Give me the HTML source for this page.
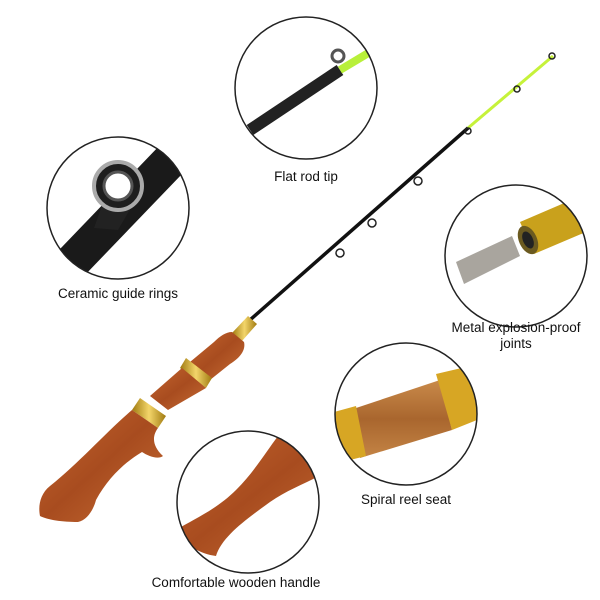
<!DOCTYPE html>
<html><head><style>
html,body{margin:0;padding:0;background:#fff;}
svg{display:block}
text{font-family:"Liberation Sans",sans-serif;font-size:13.5px;fill:#111;text-anchor:middle}
</style></head><body>
<svg width="600" height="600" viewBox="0 0 600 600" xmlns="http://www.w3.org/2000/svg">
<defs>
<linearGradient id="wood" x1="0" y1="0" x2="1" y2="1">
<stop offset="0" stop-color="#c4652f"/><stop offset="0.5" stop-color="#a84c1f"/><stop offset="1" stop-color="#c66c34"/></linearGradient>
<linearGradient id="gold" x1="0" y1="0" x2="1" y2="0">
<stop offset="0" stop-color="#a07a10"/><stop offset="0.5" stop-color="#f3d56a"/><stop offset="1" stop-color="#a07a10"/></linearGradient>
<linearGradient id="wood2" x1="0" y1="0" x2="0" y2="1">
<stop offset="0" stop-color="#c98a4a"/><stop offset="0.5" stop-color="#a9662e"/><stop offset="1" stop-color="#c48445"/></linearGradient>
<clipPath id="c1"><circle cx="306" cy="88" r="71"/></clipPath>
<clipPath id="c2"><circle cx="118" cy="208" r="71"/></clipPath>
<clipPath id="c3"><circle cx="516" cy="256" r="71"/></clipPath>
<clipPath id="c4"><circle cx="406" cy="414" r="71"/></clipPath>
<clipPath id="c5"><circle cx="248" cy="502" r="71"/></clipPath>
</defs>

<!-- rod -->
<line x1="553" y1="56" x2="468" y2="128" stroke="#c6f23a" stroke-width="3"/>
<line x1="468" y1="128" x2="250" y2="320" stroke="#111" stroke-width="3.5"/>
<g fill="none" stroke="#222" stroke-width="1.5">
<circle cx="552" cy="56" r="3"/><circle cx="517" cy="89" r="3"/><circle cx="468" cy="131" r="3"/>
<circle cx="418" cy="181" r="4"/><circle cx="372" cy="223" r="4"/><circle cx="340" cy="253" r="4"/>
</g>
<!-- handle -->
<polygon points="248,316 257,324 242,341 232,333" fill="url(#gold)"/>
<path d="M232,332 L244,342 C246,350 240,358 230,364 L210,380 L190,362 L214,342 C220,336 226,332 232,332 Z" fill="url(#wood)"/>
<polygon points="186,358 212,378 206,388 180,368" fill="url(#gold)"/>
<path d="M182,368 L206,388 L168,410 L150,396 Z" fill="url(#wood)"/>
<polygon points="140,398 166,416 158,428 132,410" fill="url(#gold)"/>
<path d="M132,410 L158,428 C152,436 152,446 163,456 C158,460 148,456 142,452 C125,462 108,478 96,500 C94,508 88,520 78,522 C62,522 48,520 40,516 C38,506 40,494 50,486 C80,462 106,432 132,410 Z" fill="url(#wood)"/>

<!-- circles -->
<g clip-path="url(#c1)">
<rect x="230" y="10" width="160" height="160" fill="#fff"/>
<line x1="250" y1="130" x2="340" y2="70" stroke="#222" stroke-width="12"/>
<line x1="340" y1="70" x2="390" y2="40" stroke="#b8f03a" stroke-width="8"/>
<circle cx="338" cy="56" r="6" fill="none" stroke="#555" stroke-width="3"/>
</g>
<circle cx="306" cy="88" r="71" fill="none" stroke="#222" stroke-width="1.5"/>

<g clip-path="url(#c2)">
<rect x="40" y="130" width="160" height="160" fill="#fff"/>
<line x1="185" y1="145" x2="60" y2="275" stroke="#1a1a1a" stroke-width="36"/>
<path d="M104,200 L132,206 L118,230 L94,228 Z" fill="#222"/>
<circle cx="118" cy="186" r="24" fill="#1e1e1e" stroke="#aaa" stroke-width="4"/>
<circle cx="118" cy="186" r="14" fill="#fff" stroke="#555" stroke-width="3"/>
</g>
<circle cx="118" cy="208" r="71" fill="none" stroke="#222" stroke-width="1.5"/>

<g clip-path="url(#c3)">
<rect x="440" y="180" width="160" height="160" fill="#fff"/>
<polygon points="456,262 512,236 520,256 464,284" fill="#a9a59e"/>
<polygon points="520,222 590,192 600,226 534,254" fill="#c9a11c"/>
<ellipse cx="528" cy="240" rx="9" ry="15" fill="#6b5a20" transform="rotate(-24 528 240)"/>
<ellipse cx="528" cy="240" rx="5" ry="9" fill="#222" transform="rotate(-24 528 240)"/>
</g>
<circle cx="516" cy="256" r="71" fill="none" stroke="#222" stroke-width="1.5"/>

<g clip-path="url(#c4)">
<rect x="330" y="340" width="160" height="160" fill="#fff"/>
<polygon points="350,410 440,380 452,430 360,458" fill="url(#wood2)"/>
<polygon points="436,374 470,366 482,418 452,430" fill="#d7a624"/>
<polygon points="334,412 356,406 366,456 342,462" fill="#d7a624"/>
</g>
<circle cx="406" cy="414" r="71" fill="none" stroke="#222" stroke-width="1.5"/>

<g clip-path="url(#c5)">
<rect x="170" y="425" width="160" height="160" fill="#fff"/>
<path d="M278,436 L330,440 L330,470 C310,482 290,488 270,502 C248,518 222,536 216,556 C200,554 186,546 176,530 C192,520 216,510 236,490 C254,472 266,452 278,436 Z" fill="url(#wood)"/>
</g>
<circle cx="248" cy="502" r="71" fill="none" stroke="#222" stroke-width="1.5"/>

<text x="306" y="181">Flat rod tip</text>
<text x="118" y="298">Ceramic guide rings</text>
<text x="516" y="332">Metal explosion-proof</text>
<text x="516" y="348">joints</text>
<text x="406" y="504">Spiral reel seat</text>
<text x="236" y="587">Comfortable wooden handle</text>
</svg>
</body></html>
